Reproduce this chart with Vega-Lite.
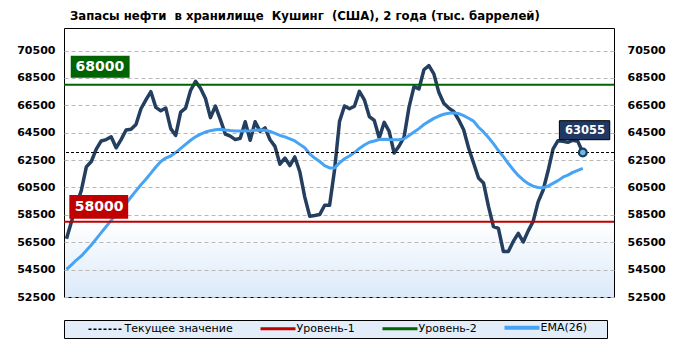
{
  "$schema": "https://vega.github.io/schema/vega-lite/v6.json",
  "width": 550,
  "height": 269,
  "autosize": {"type": "none"},
  "padding": {"left": 64, "top": 28, "right": 68, "bottom": 44},
  "background": "#ffffff",
  "title": {
    "text": "Запасы нефти\u00a0 в хранилище\u00a0 Кушинг\u00a0 (США), 2 года (тыс. баррелей)",
    "anchor": "start",
    "frame": "group",
    "dx": 6,
    "offset": -5,
    "baseline": "alphabetic",
    "font": "DejaVu Sans Condensed",
    "fontSize": 13,
    "fontWeight": "bold",
    "color": "#000000"
  },
  "view": {
    "stroke": "#000000",
    "strokeWidth": 1,
    "fill": {
      "gradient": "linear",
      "x1": 0, "y1": 0, "x2": 0, "y2": 1,
      "stops": [
        {"offset": 0, "color": "#ffffff"},
        {"offset": 0.72, "color": "#ffffff"},
        {"offset": 1, "color": "#dbe9f8"}
      ]
    }
  },
  "config": {
    "font": "DejaVu Sans",
    "axis": {
      "domain": false,
      "ticks": false,
      "labelFont": "DejaVu Sans",
      "labelFontWeight": "bold",
      "labelColor": "#000000",
      "gridColor": "#b8b8b8",
      "gridDash": [4, 3],
      "gridWidth": 1,
      "labelOverlap": false
    }
  },
  "datasets": {
    "weekly": [
      {"date": "2015-11-13", "stocks": 56750, "ema": 54520},
      {"date": "2015-11-20", "stocks": 58000, "ema": 54850},
      {"date": "2015-11-27", "stocks": 59200, "ema": 55200},
      {"date": "2015-12-04", "stocks": 60300, "ema": 55500},
      {"date": "2015-12-11", "stocks": 62000, "ema": 55900},
      {"date": "2015-12-18", "stocks": 62400, "ema": 56300},
      {"date": "2015-12-25", "stocks": 63300, "ema": 56750},
      {"date": "2016-01-01", "stocks": 63900, "ema": 57200},
      {"date": "2016-01-08", "stocks": 64000, "ema": 57650},
      {"date": "2016-01-15", "stocks": 64200, "ema": 58100},
      {"date": "2016-01-22", "stocks": 63400, "ema": 58500},
      {"date": "2016-01-29", "stocks": 64000, "ema": 58900},
      {"date": "2016-02-05", "stocks": 64700, "ema": 59350},
      {"date": "2016-02-12", "stocks": 64750, "ema": 59800},
      {"date": "2016-02-19", "stocks": 65100, "ema": 60250},
      {"date": "2016-02-26", "stocks": 66250, "ema": 60700},
      {"date": "2016-03-04", "stocks": 66900, "ema": 61100},
      {"date": "2016-03-11", "stocks": 67500, "ema": 61550},
      {"date": "2016-03-18", "stocks": 66350, "ema": 62000},
      {"date": "2016-03-25", "stocks": 66100, "ema": 62400},
      {"date": "2016-04-01", "stocks": 66300, "ema": 62650},
      {"date": "2016-04-08", "stocks": 64800, "ema": 62800},
      {"date": "2016-04-15", "stocks": 64300, "ema": 63050},
      {"date": "2016-04-22", "stocks": 66000, "ema": 63350},
      {"date": "2016-04-29", "stocks": 66300, "ema": 63650},
      {"date": "2016-05-06", "stocks": 67600, "ema": 63950},
      {"date": "2016-05-13", "stocks": 68250, "ema": 64200},
      {"date": "2016-05-20", "stocks": 67750, "ema": 64400},
      {"date": "2016-05-27", "stocks": 67000, "ema": 64550},
      {"date": "2016-06-03", "stocks": 65600, "ema": 64650},
      {"date": "2016-06-10", "stocks": 66450, "ema": 64720},
      {"date": "2016-06-17", "stocks": 65450, "ema": 64750},
      {"date": "2016-06-24", "stocks": 64400, "ema": 64700},
      {"date": "2016-07-01", "stocks": 64250, "ema": 64660},
      {"date": "2016-07-08", "stocks": 64000, "ema": 64630},
      {"date": "2016-07-15", "stocks": 64100, "ema": 64620},
      {"date": "2016-07-22", "stocks": 65300, "ema": 64630},
      {"date": "2016-07-29", "stocks": 63950, "ema": 64640},
      {"date": "2016-08-05", "stocks": 65300, "ema": 64680},
      {"date": "2016-08-12", "stocks": 64600, "ema": 64700},
      {"date": "2016-08-19", "stocks": 64850, "ema": 64680},
      {"date": "2016-08-26", "stocks": 63990, "ema": 64600},
      {"date": "2016-09-02", "stocks": 63500, "ema": 64450},
      {"date": "2016-09-09", "stocks": 62200, "ema": 64300},
      {"date": "2016-09-16", "stocks": 62650, "ema": 64200},
      {"date": "2016-09-23", "stocks": 62100, "ema": 64050},
      {"date": "2016-09-30", "stocks": 62730, "ema": 63900},
      {"date": "2016-10-07", "stocks": 61650, "ema": 63650},
      {"date": "2016-10-14", "stocks": 59800, "ema": 63400},
      {"date": "2016-10-21", "stocks": 58400, "ema": 62950},
      {"date": "2016-10-28", "stocks": 58450, "ema": 62650},
      {"date": "2016-11-04", "stocks": 58520, "ema": 62400},
      {"date": "2016-11-11", "stocks": 59200, "ema": 62100},
      {"date": "2016-11-18", "stocks": 59200, "ema": 61930},
      {"date": "2016-11-25", "stocks": 61800, "ema": 61930},
      {"date": "2016-12-02", "stocks": 65330, "ema": 62300},
      {"date": "2016-12-09", "stocks": 66450, "ema": 62600},
      {"date": "2016-12-16", "stocks": 66250, "ema": 62800},
      {"date": "2016-12-23", "stocks": 66430, "ema": 63050},
      {"date": "2016-12-30", "stocks": 67520, "ema": 63350},
      {"date": "2017-01-06", "stocks": 66900, "ema": 63600},
      {"date": "2017-01-13", "stocks": 65680, "ema": 63800},
      {"date": "2017-01-20", "stocks": 65400, "ema": 63900},
      {"date": "2017-01-27", "stocks": 64120, "ema": 64000},
      {"date": "2017-02-03", "stocks": 65260, "ema": 64020},
      {"date": "2017-02-10", "stocks": 64600, "ema": 64000},
      {"date": "2017-02-17", "stocks": 63020, "ema": 63990},
      {"date": "2017-02-24", "stocks": 63530, "ema": 63990},
      {"date": "2017-03-03", "stocks": 64180, "ema": 64050},
      {"date": "2017-03-10", "stocks": 66370, "ema": 64300},
      {"date": "2017-03-17", "stocks": 67870, "ema": 64550},
      {"date": "2017-03-24", "stocks": 67700, "ema": 64800},
      {"date": "2017-03-31", "stocks": 69100, "ema": 65100},
      {"date": "2017-04-07", "stocks": 69400, "ema": 65330},
      {"date": "2017-04-14", "stocks": 68800, "ema": 65550},
      {"date": "2017-04-21", "stocks": 67450, "ema": 65720},
      {"date": "2017-04-28", "stocks": 66650, "ema": 65850},
      {"date": "2017-05-05", "stocks": 66300, "ema": 65920},
      {"date": "2017-05-12", "stocks": 66050, "ema": 65950},
      {"date": "2017-05-19", "stocks": 65450, "ema": 65900},
      {"date": "2017-05-26", "stocks": 64720, "ema": 65750},
      {"date": "2017-06-02", "stocks": 63380, "ema": 65560},
      {"date": "2017-06-09", "stocks": 62290, "ema": 65350},
      {"date": "2017-06-16", "stocks": 61190, "ema": 64900},
      {"date": "2017-06-23", "stocks": 60830, "ema": 64560},
      {"date": "2017-06-30", "stocks": 59120, "ema": 64150},
      {"date": "2017-07-07", "stocks": 57650, "ema": 63700},
      {"date": "2017-07-14", "stocks": 57520, "ema": 63200},
      {"date": "2017-07-21", "stocks": 55830, "ema": 62750},
      {"date": "2017-07-28", "stocks": 55830, "ema": 62250},
      {"date": "2017-08-04", "stocks": 56560, "ema": 61800},
      {"date": "2017-08-11", "stocks": 57150, "ema": 61380},
      {"date": "2017-08-18", "stocks": 56520, "ema": 61050},
      {"date": "2017-08-25", "stocks": 57330, "ema": 60780},
      {"date": "2017-09-01", "stocks": 58020, "ema": 60600},
      {"date": "2017-09-08", "stocks": 59450, "ema": 60500},
      {"date": "2017-09-15", "stocks": 60300, "ema": 60480},
      {"date": "2017-09-22", "stocks": 61700, "ema": 60600},
      {"date": "2017-09-29", "stocks": 63300, "ema": 60800},
      {"date": "2017-10-06", "stocks": 63920, "ema": 61000},
      {"date": "2017-10-13", "stocks": 63870, "ema": 61250},
      {"date": "2017-10-20", "stocks": 63800, "ema": 61400},
      {"date": "2017-10-27", "stocks": 63950, "ema": 61600},
      {"date": "2017-11-03", "stocks": 63870, "ema": 61750},
      {"date": "2017-11-10", "stocks": 63055, "ema": 61900}
    ],
    "levels": [
      {"name": "Уровень-1", "value": 58000},
      {"name": "Уровень-2", "value": 68000}
    ],
    "current": [
      {"name": "Текущее значение", "value": 63055, "date": "2017-11-10"}
    ]
  },
  "resolve": {"axis": {"y": "independent"}},
  "layer": [
    {
      "data": {"name": "weekly"},
      "mark": {"type": "line", "color": "#233e5f", "strokeWidth": 3.5, "strokeJoin": "round"},
      "encoding": {
        "x": {
          "field": "date",
          "type": "temporal",
          "scale": {
            "type": "utc",
            "domain": [
              {"year": 2015, "month": 11, "date": 9, "hours": 12, "utc": true},
              {"year": 2017, "month": 12, "date": 24, "utc": true}
            ]
          },
          "axis": {
            "title": null,
            "grid": true,
            "values": [
              {"year": 2015, "month": 11, "date": 13, "utc": true},
              {"year": 2016, "month": 5, "date": 13, "utc": true},
              {"year": 2016, "month": 11, "date": 11, "utc": true},
              {"year": 2017, "month": 5, "date": 12, "utc": true},
              {"year": 2017, "month": 11, "date": 10, "utc": true}
            ],
            "labelExpr": "utcFormat(datum.value, '%d.%m.%Y') == '12.05.2017' ? '17.05.2017' : utcFormat(datum.value, '%d.%m.%Y') == '10.11.2017' ? '15.11.2017' : utcFormat(datum.value, '%d.%m.%Y')",
            "tickOffset": -2.5,
            "labelOffset": 2.5,
            "labelFlush": false,
            "labelFontSize": 10,
            "labelPadding": 6
          }
        },
        "y": {
          "field": "stocks",
          "type": "quantitative",
          "scale": {"domain": [52500, 72150], "nice": false, "zero": false},
          "axis": {
            "orient": "left",
            "title": null,
            "grid": true,
            "values": [52500, 54500, 56500, 58500, 60500, 62500, 64500, 66500, 68500, 70500],
            "format": "d",
            "labelFontSize": 11,
            "labelPadding": 9
          }
        }
      }
    },
    {
      "data": {"name": "weekly"},
      "mark": {"type": "line", "strokeWidth": 3, "strokeJoin": "round"},
      "encoding": {
        "x": {"field": "date", "type": "temporal", "axis": null},
        "y": {
          "field": "ema",
          "type": "quantitative",
          "axis": {
            "orient": "right",
            "title": null,
            "grid": false,
            "values": [52500, 54500, 56500, 58500, 60500, 62500, 64500, 66500, 68500, 70500],
            "format": "d",
            "labelFontSize": 11,
            "labelPadding": 13
          }
        },
        "color": {
          "datum": "EMA(26)",
          "type": "nominal",
          "scale": {
            "domain": ["Текущее значение", "Уровень-1", "Уровень-2", "EMA(26)"],
            "range": ["#000000", "#c00000", "#006400", "#47a4f5"]
          },
          "legend": {
            "title": null,
            "orient": "none",
            "legendX": 0,
            "legendY": 292,
            "direction": "horizontal",
            "symbolType": "M-3.5,0H3.5",
            "symbolSize": 100,
            "symbolStrokeWidth": 2,
            "symbolOffset": 34.5,
            "labelOffset": 13,
            "columnPadding": 5,
            "padding": 2,
            "labelFont": "DejaVu Sans",
            "labelFontSize": 11,
            "labelColor": "#000000",
            "labelExpr": "datum.label == 'EMA(26)' ? 'EMA(26)\u00a0\u00a0\u00a0\u00a0\u00a0\u200b' : datum.label",
            "strokeColor": "#000000",
            "fillColor": "#e2edf9",
            "encode": {
              "symbols": {
                "update": {
                  "strokeDash": {"signal": "datum.value === 'Текущее значение' ? [3, 2] : [1, 0]"},
                  "strokeWidth": {"signal": "datum.value === 'EMA(26)' ? 4 : datum.value === 'Текущее значение' ? 1.5 : 3"},
                  "fill": {"value": "transparent"}
                }
              }
            }
          }
        }
      }
    },
    {
      "data": {"name": "levels"},
      "mark": {"type": "rule", "strokeWidth": 2},
      "encoding": {
        "y": {"field": "value", "type": "quantitative", "axis": null},
        "color": {"field": "name", "type": "nominal", "legend": null}
      }
    },
    {
      "data": {"name": "current"},
      "mark": {"type": "rule", "strokeWidth": 1, "strokeDash": [3, 2]},
      "encoding": {
        "y": {"field": "value", "type": "quantitative", "axis": null},
        "color": {"field": "name", "type": "nominal", "legend": null}
      }
    },
    {
      "data": {"name": "current"},
      "mark": {"type": "point", "filled": true, "fill": "#62bde0", "stroke": "#1f3a5f", "strokeWidth": 2.2, "size": 60, "opacity": 1},
      "encoding": {
        "x": {"field": "date", "type": "temporal", "axis": null},
        "y": {"field": "value", "type": "quantitative", "axis": null}
      }
    },
    {
      "data": {"values": [{}]},
      "mark": {"type": "rect", "color": "#006400"},
      "encoding": {
        "x": {"datum": {"year": 2015, "month": 11, "date": 19, "utc": true}, "type": "temporal", "axis": null},
        "x2": {"datum": {"year": 2016, "month": 2, "date": 10, "utc": true}},
        "y": {"datum": 68520, "type": "quantitative", "axis": null},
        "y2": {"datum": 70130}
      }
    },
    {
      "data": {"values": [{}]},
      "mark": {"type": "rect", "color": "#c00000"},
      "encoding": {
        "x": {"datum": {"year": 2015, "month": 11, "date": 17, "utc": true}, "type": "temporal", "axis": null},
        "x2": {"datum": {"year": 2016, "month": 2, "date": 8, "utc": true}},
        "y": {"datum": 58210, "type": "quantitative", "axis": null},
        "y2": {"datum": 59945}
      }
    },
    {
      "data": {"values": [{}]},
      "mark": {"type": "rect", "color": "#1f3864", "stroke": "#000000", "strokeWidth": 1},
      "encoding": {
        "x": {"datum": {"year": 2017, "month": 10, "date": 8, "utc": true}, "type": "temporal", "axis": null},
        "x2": {"datum": {"year": 2017, "month": 12, "date": 18, "utc": true}},
        "y": {"datum": 63990, "type": "quantitative", "axis": null},
        "y2": {"datum": 65380}
      }
    },
    {
      "data": {"name": "levels"},
      "transform": [{"filter": "datum.name == 'Уровень-2'"}],
      "mark": {"type": "text", "color": "#ffffff", "font": "DejaVu Sans", "fontWeight": "bold", "fontSize": 14, "baseline": "middle", "align": "center", "dy": -18},
      "encoding": {
        "x": {"datum": {"year": 2015, "month": 12, "date": 30, "utc": true}, "type": "temporal", "axis": null},
        "y": {"field": "value", "type": "quantitative", "axis": null},
        "text": {"field": "value", "type": "quantitative", "format": "d"}
      }
    },
    {
      "data": {"name": "levels"},
      "transform": [{"filter": "datum.name == 'Уровень-1'"}],
      "mark": {"type": "text", "color": "#ffffff", "font": "DejaVu Sans", "fontWeight": "bold", "fontSize": 14, "baseline": "middle", "align": "center", "dy": -15},
      "encoding": {
        "x": {"datum": {"year": 2015, "month": 12, "date": 29, "utc": true}, "type": "temporal", "axis": null},
        "y": {"field": "value", "type": "quantitative", "axis": null},
        "text": {"field": "value", "type": "quantitative", "format": "d"}
      }
    },
    {
      "data": {"name": "current"},
      "mark": {"type": "text", "color": "#ffffff", "font": "DejaVu Sans", "fontWeight": "bold", "fontSize": 11.5, "baseline": "middle", "align": "center", "dy": -22},
      "encoding": {
        "x": {"datum": {"year": 2017, "month": 11, "date": 13, "utc": true}, "type": "temporal", "axis": null},
        "y": {"field": "value", "type": "quantitative", "axis": null},
        "text": {"field": "value", "type": "quantitative", "format": "d"}
      }
    }
  ]
}
